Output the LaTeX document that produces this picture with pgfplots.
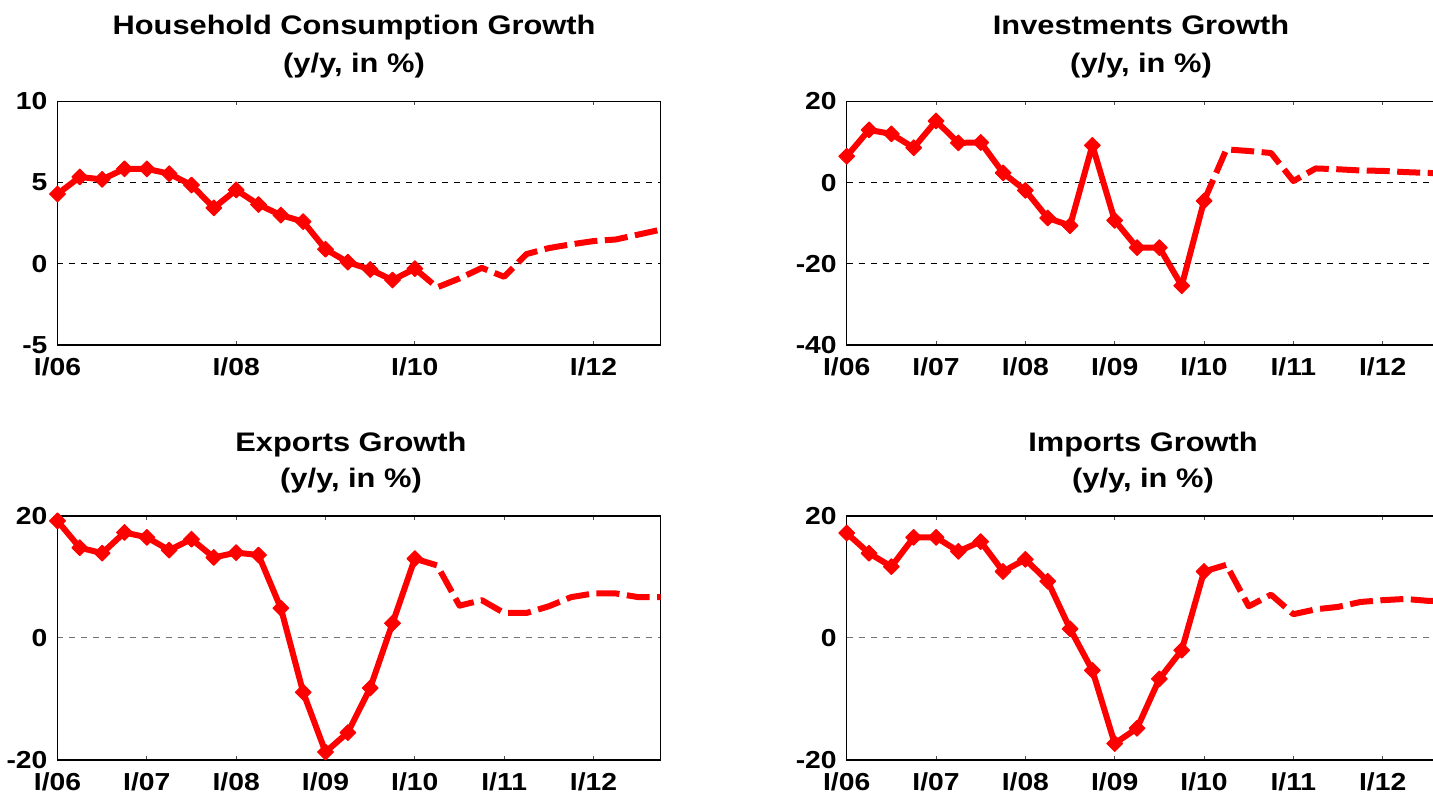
\documentclass[border=0pt]{standalone}
\usepackage{fontspec}
\newfontfamily\chartfont[FakeStretch=1.15]{Liberation Sans}
\usepackage{pgfplots}
\usepackage{pgfplotstable}
\pgfplotsset{compat=1.18}

% quarters from I/06 (q=0) to IV/12 (q=27)
\pgfplotstableread{
q   hc     inv    ex     im
0   4.3    6.5    19.2   17.2
1   5.35   13.0   14.8   13.9
2   5.2    12.0   13.9   11.7
3   5.85   8.6    17.3   16.5
4   5.85   15.2   16.5   16.5
5   5.55   9.8    14.4   14.2
6   4.85   9.9    16.2   15.8
7   3.45   2.4    13.2   10.9
8   4.55   -1.9   14.0   12.9
9   3.65   -8.7   13.6   9.3
10  3.0    -10.6  4.9    1.5
11  2.6    9.2    -8.9   -5.3
12  0.9    -9.3   -18.7  -17.3
13  0.1    -16.0  -15.5  -14.8
14  -0.35  -16.0  -8.2   -6.7
15  -1.0   -25.4  2.4    -2.0
16  -0.3   -4.5   13.0   10.9
}\hist

\pgfplotstableread{
q   hc     inv    ex     im
16  -0.3   -4.5   13.0   10.9
17  -1.45  8.2    11.9   12.0
18  -0.9   7.8    5.3    5.2
19  -0.25  7.3    6.2    7.1
20  -0.8   0.4    4.1    3.9
21  0.6    3.5    4.1    4.7
22  0.97   3.3    5.2    5.1
23  1.2    3.0    6.7    5.9
24  1.4    2.9    7.3    6.2
25  1.5    2.6    7.3    6.4
26  1.8    2.4    6.7    6.1
27  2.1    2.2    6.7    6.0
}\fcst

\pgfplotsset{
  panel/.style={
    scale only axis, width=301.5pt, height=121.75pt,
    anchor=south west, clip=false,
    xmin=0, xmax=27,
    axis line style={black, line width=0.75pt},
    tick align=inside, major tick length=2pt,
    xtick style={black!70, line width=0.5pt},
    ytick style={draw=none},
    ymajorgrids,
    major grid style={dash pattern=on 3pt off 3pt, line width=0.5pt, black},
    tick label style={font=\chartfont\bfseries\fontsize{12.3}{13}\selectfont},
    xticklabel style={yshift=-3pt},
    yticklabel style={xshift=-1.5pt},
    xtick={0,4,...,24},
    xticklabels={I/06,I/07,I/08,I/09,I/10,I/11,I/12},
  },
  hist/.style={red, line width=3pt, line join=round,
    mark=square*, mark size=2.8pt, mark options={solid, rotate=45, line width=0.5pt}},
  fcst/.style={red, line width=3pt, line join=round, dash pattern=on 11.5pt off 3.75pt},
}
\tikzset{ttl/.style={font=\chartfont\bfseries\fontsize{13.4}{15}\selectfont, anchor=base}}

\begin{document}
\begin{tikzpicture}
\clip (0,0) rectangle (716.5pt,397.5pt);

% household consumption
\begin{axis}[panel, at={(28.75pt,225pt)},
    ymin=-5, ymax=10, ytick={-5,0,5,10}, yticklabels={-5,0,5,10},
    xtick={0,8,16,24}, xticklabels={I/06,I/08,I/10,I/12}]
  \addplot[fcst] table[x=q, y=hc] {\fcst};
  \addplot[hist] table[x=q, y=hc] {\hist};
\end{axis}

% investments
\begin{axis}[panel, at={(423.35pt,225pt)},
    ymin=-40, ymax=20, ytick={-40,-20,0,20}, yticklabels={-40,-20,0,20}]
  \addplot[fcst] table[x=q, y=inv] {\fcst};
  \addplot[hist] table[x=q, y=inv] {\hist};
\end{axis}

% exports
\begin{axis}[panel, at={(28.75pt,17.5pt)}, height=122pt,
    major grid style={dash pattern=on 3pt off 3pt, line width=0.5pt, black!55},
    ymin=-20, ymax=20, ytick={-20,0,20}, yticklabels={-20,0,20}]
  \addplot[fcst] table[x=q, y=ex] {\fcst};
  \addplot[hist] table[x=q, y=ex] {\hist};
\end{axis}

% imports
\begin{axis}[panel, at={(423.35pt,17.5pt)}, height=122pt,
    major grid style={dash pattern=on 3pt off 3pt, line width=0.5pt, black!55},
    ymin=-20, ymax=20, ytick={-20,0,20}, yticklabels={-20,0,20}]
  \addplot[fcst] table[x=q, y=im] {\fcst};
  \addplot[hist] table[x=q, y=im] {\hist};
\end{axis}

\node[ttl] at (177pt,380pt) {Household Consumption Growth};
\node[ttl] at (177pt,361pt) {(y/y, in \%)};
\node[ttl] at (570.5pt,380pt) {Investments Growth};
\node[ttl] at (570.5pt,361pt) {(y/y, in \%)};
\node[ttl] at (175.5pt,171.75pt) {Exports Growth};
\node[ttl] at (175.5pt,153.5pt) {(y/y, in \%)};
\node[ttl] at (571.5pt,171.75pt) {Imports Growth};
\node[ttl] at (571.5pt,153.5pt) {(y/y, in \%)};
\end{tikzpicture}
\end{document}
